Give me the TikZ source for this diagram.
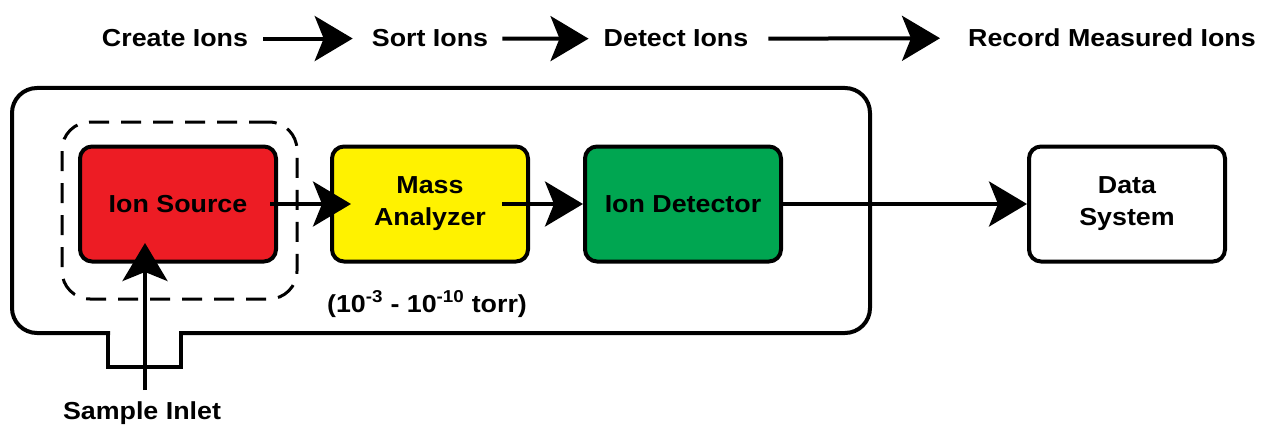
\documentclass[tikz,border=0pt]{standalone}
\usepackage{fontspec}
\setmainfont{Liberation Sans}[FakeStretch=1.09]
\usetikzlibrary{arrows.meta}
\definecolor{srcred}{HTML}{ED1C24}
\definecolor{anayellow}{HTML}{FFF200}
\definecolor{detgreen}{HTML}{00A651}
\begin{document}
\begin{tikzpicture}[x=1pt,y=-1pt,
  lbl/.style={font=\fontsize{24.6}{32}\selectfont\bfseries, inner sep=0pt, anchor=base},
  unit/.style={draw, line width=4pt, rounded corners=12pt, minimum width=196pt,
    minimum height=115pt, align=center, inner sep=0pt,
    font=\fontsize{24.6}{32}\selectfont\bfseries},
  arr/.style={line width=4pt, -{Stealth[length=38pt,width=45pt,inset=9pt]}},
  outerline/.style={line width=4pt},
  groupbox/.style={draw, line width=3pt, dash pattern=on 20pt off 12pt,
    rounded corners=28pt, minimum width=235pt, minimum height=177pt, inner sep=0pt}
]
\useasboundingbox (0,0) rectangle (1262,428);

% top process labels
\node[lbl] (create) at (175,47) {Create Ions};
\node[lbl] (sort) at (430,47) {Sort Ions};
\node[lbl] (detect) at (676,47) {Detect Ions};
\node[lbl] (record) at (1112,47) {Record Measured Ions};
\draw[arr] ([xshift=15pt]create.east) -- ([xshift=-19pt]sort.west);
\draw[arr] ([xshift=14pt]sort.east) -- ([xshift=-15pt]detect.west);
\draw[arr] ([xshift=20pt]detect.east) -- ([xshift=-28pt]record.west);

% outer vacuum enclosure with inlet notch
\draw[outerline, rounded corners=25pt, line cap=rect]
  (108,333) -- (12,333) -- (12,88) -- (870,88) -- (870,333) -- (181,333);
\draw[outerline, line cap=rect] (108,333) -- (108,367) -- (181,367) -- (181,333);

% dashed group around the ion source
\node[groupbox] (srcgroup) at (179.5,210.5) {};

% units
\node[unit, fill=srcred] (src) at (178,204) {Ion Source};
\node[unit, fill=anayellow] (mass) at (430,204) {Mass\\Analyzer};
\node[unit, fill=detgreen] (det) at (683,204) {Ion Detector};
\node[unit] (data) at (1127,204) {Data\\System};

% connectors
\draw[arr] ([xshift=-8pt]src.east) -- ([xshift=21pt]mass.west);
\draw[arr] ([xshift=-28pt]mass.east) -- (det.west);
\draw[arr] (det.east) -- (data.west);

% sample inlet
\coordinate (inletbot) at (145,390);
\coordinate (inlettop) at (145,243);
\draw[arr] (inletbot) -- (inlettop);
\node[lbl] (inletlbl) at (142,419) {Sample Inlet};

% pressure label
\node[lbl] (torr) at (427,312) {(10\textsuperscript{-3} - 10\textsuperscript{-10} torr)};
\end{tikzpicture}
\end{document}
